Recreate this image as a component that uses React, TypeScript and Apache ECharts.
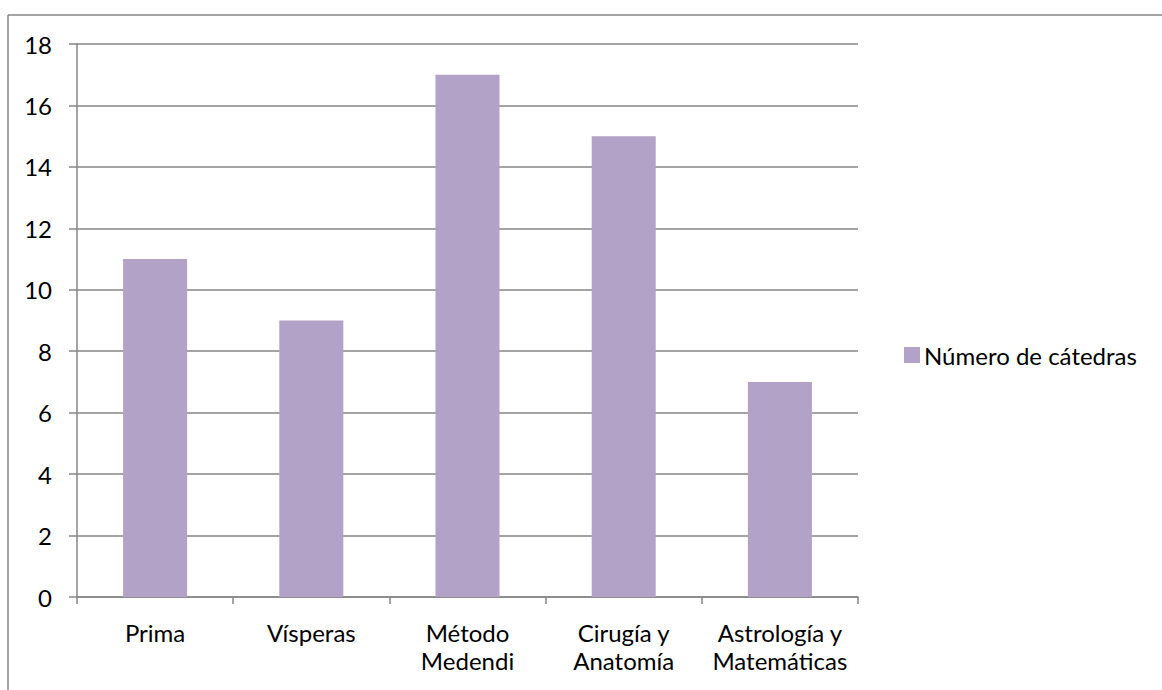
import React, { useEffect, useRef } from "react";
import * as echarts from "echarts";

const categories = ["Prima", "Vísperas", "Método\nMedendi", "Cirugía y\nAnatomía", "Astrología y\nMatemáticas"];
const values = [11, 9, 17, 15, 7];
const seriesName = "Número de cátedras";

export default function App() {
  const ref = useRef<HTMLDivElement>(null);
  useEffect(() => {
    if (!ref.current) return;
    const chart = echarts.init(ref.current, undefined, { renderer: "svg" });
    const font = "Lato, 'Open Sans', sans-serif";
    chart.setOption({
      animation: false,
      backgroundColor: "#fff",
      textStyle: { fontFamily: font },
      graphic: [
        { type: "line", shape: { x1: 8, y1: 15, x2: 1162, y2: 15 }, style: { stroke: "#868686", lineWidth: 1.5 } },
        { type: "line", shape: { x1: 8, y1: 15, x2: 8, y2: 690 }, style: { stroke: "#868686", lineWidth: 1.5 } },
      ],
      grid: { left: 77, top: 44, width: 781, height: 553, containLabel: false },
      legend: {
        left: 899,
        top: 338,
        itemWidth: 16,
        itemHeight: 16,
        itemGap: 6,
        icon: "rect",
        textStyle: { fontFamily: font, fontSize: 24, color: "#000", padding: [0, 0, 0, -1] },
        data: [seriesName],
      },
      xAxis: {
        type: "category",
        data: categories,
        axisLine: { lineStyle: { color: "#868686", width: 1.5 } },
        axisTick: { show: true, length: 7, alignWithLabel: false, lineStyle: { color: "#868686", width: 1.5 } },
        axisLabel: { color: "#000", fontSize: 24, fontFamily: font, margin: 21, lineHeight: 28, interval: 0 },
        splitLine: { show: false },
      },
      yAxis: {
        type: "value",
        min: 0,
        max: 18,
        interval: 2,
        axisLine: { show: true, lineStyle: { color: "#868686", width: 1.5 } },
        axisTick: { show: true, length: 8, lineStyle: { color: "#868686", width: 1.5 } },
        axisLabel: { color: "#000", fontSize: 24, fontFamily: font, margin: 25 },
        splitLine: { show: true, lineStyle: { color: "#868686", width: 1.5 } },
      },
      series: [
        {
          name: seriesName,
          type: "bar",
          data: values,
          barWidth: "41%",
          itemStyle: { color: "#B3A2C7" },
        },
      ],
    });
    return () => chart.dispose();
  }, []);
  return (
    <div
      ref={ref}
      style={{ position: "fixed", left: 0, top: 0, width: 1162, height: 690 }}
    />
  );
}
